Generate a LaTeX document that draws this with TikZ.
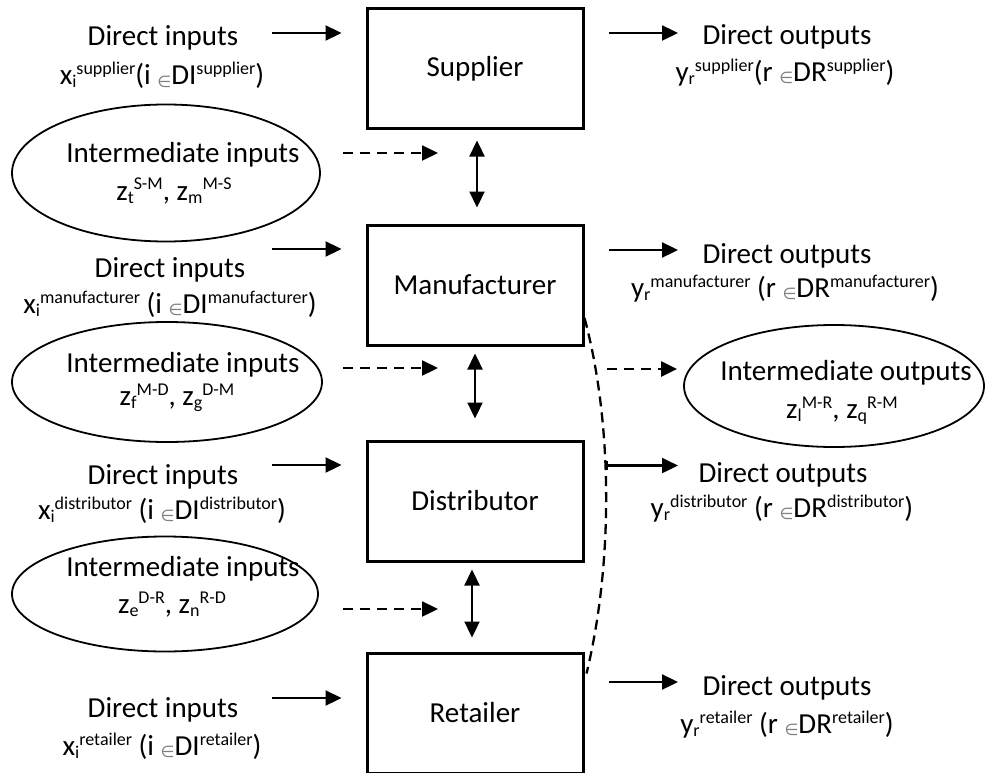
\documentclass[tikz,border=0pt]{standalone}
\usepackage{fontspec}
\setmainfont{Carlito}
\newfontfamily\symfont{DejaVu Sans}
\usepackage{tikz}
\usetikzlibrary{arrows.meta,shapes.geometric,positioning}
\newcommand{\upx}[1]{\raisebox{10pt}{\fontsize{18}{18}\selectfont #1}}
\newcommand{\dnx}[1]{\raisebox{-3pt}{\fontsize{18}{18}\selectfont #1}}
\newcommand{\memb}{\raisebox{-2pt}{\fontsize{16}{16}\selectfont\symfont\color{gray}∈}}

\begin{document}
\begin{tikzpicture}[x=1pt,y=-1pt,>={Triangle[length=16pt,width=15pt]},line width=2.3pt]
  \tikzstyle{firm}=[rectangle,draw=black,line width=3pt,minimum width=216pt,minimum height=120pt,inner sep=0pt,font=\fontsize{29}{35}\selectfont]
  \tikzstyle{oval}=[ellipse,draw=black,line width=1.8pt,inner sep=0pt]
  \tikzstyle{txt}=[inner sep=0pt,anchor=base,font=\fontsize{29}{35}\selectfont]
  \tikzstyle{dasharr}=[->,dash pattern=on 10pt off 7pt]

  \useasboundingbox (0,0) rectangle (985,773);

  % the four firms
  \node[firm] (Sup) at (475,69)  {Supplier};
  \node[firm] (Man) at (475,285) {Manufacturer};
  \node[firm] (Dis) at (475,501) {Distributor};
  \node[firm] (Ret) at (475,713) {Retailer};

  % ovals
  \node[oval,minimum width=308pt,minimum height=137pt] (E1) at (166,173) {};
  \node[oval,minimum width=310pt,minimum height=120pt] (E2) at (167,382) {};
  \node[oval,minimum width=306pt,minimum height=115pt] (E3) at (165,594) {};
  \node[oval,minimum width=300pt,minimum height=122pt] (IO) at (834,386) {};

  % direct inputs
  \node[txt] (inS)  at (163,46)  {Direct inputs};
  \node[txt] (inSv) at (162,85)  {x\dnx{i}\upx{supplier}(i \memb DI\upx{supplier})};
  \node[txt] (inM)  at (170,277) {Direct inputs};
  \node[txt] (inMv) at (170,313) {x\dnx{i}\upx{manufacturer} (i \memb DI\upx{manufacturer})};
  \node[txt] (inD)  at (163,484) {Direct inputs};
  \node[txt] (inDv) at (162,519) {x\dnx{i}\upx{distributor} (i \memb DI\upx{distributor})};
  \node[txt] (inR)  at (163,717) {Direct inputs};
  \node[txt] (inRv) at (162,755) {x\dnx{i}\upx{retailer} (i \memb DI\upx{retailer})};

  % direct outputs
  \node[txt] (outS)  at (787,45)  {Direct outputs};
  \node[txt] (outSv) at (785,82)  {y\dnx{r}\upx{supplier}(r \memb DR\upx{supplier})};
  \node[txt] (outM)  at (787,263) {Direct outputs};
  \node[txt] (outMv) at (785,297) {y\dnx{r}\upx{manufacturer} (r \memb DR\upx{manufacturer})};
  \node[txt] (outD)  at (783,482) {Direct outputs};
  \node[txt] (outDv) at (782,517) {y\dnx{r}\upx{distributor} (r \memb DR\upx{distributor})};
  \node[txt] (outR)  at (787,695) {Direct outputs};
  \node[txt] (outRv) at (787,733) {y\dnx{r}\upx{retailer} (r \memb DR\upx{retailer})};

  % intermediate flows
  \node[txt] (midA)  at (183,162) {Intermediate inputs};
  \node[txt] (midAv) at (174,200) {z\dnx{t}\upx{S-M}, z\dnx{m}\upx{M-S}};
  \node[txt] (midB)  at (183,372) {Intermediate inputs};
  \node[txt] (midBv) at (177,405) {z\dnx{f}\upx{M-D}, z\dnx{g}\upx{D-M}};
  \node[txt] (midC)  at (183,576) {Intermediate inputs};
  \node[txt] (midCv) at (172,613) {z\dnx{e}\upx{D-R}, z\dnx{n}\upx{R-D}};
  \node[txt] (midO)  at (846,380) {Intermediate outputs};
  \node[txt] (midOv) at (842,418) {z\dnx{l}\upx{M-R}, z\dnx{q}\upx{R-M}};

  % arrows in and out
  \foreach \b/\y in {Sup/33,Man/249,Dis/465,Ret/698}{
    \coordinate (in\b) at (272,\y);
    \draw[->,shorten >=24pt] (in\b) -- (in\b -| \b.west);
  }
  \foreach \b/\y in {Sup/33,Man/250,Ret/682}{
    \coordinate (out\b) at (678,\y);
    \draw[->,shorten <=24pt] (out\b -| \b.east) -- (out\b);
  }

  % links between firms
  \draw[<->,shorten <=10pt,shorten >=16pt] ([xshift=2pt]Sup.south) -- ([xshift=2pt]Man.north);
  \draw[<->,shorten <=7pt,shorten >=21pt] (Man.south) -- (Dis.north);
  \draw[<->,shorten <=7pt,shorten >=14pt] ([xshift=-3pt]Dis.south) -- ([xshift=-3pt]Ret.north);

  \foreach \n/\y/\b in {1/153/Sup,2/368/Man,3/609/Dis}{
    \coordinate (d\n) at (343,\y);
    \draw[dasharr,shorten >=37pt] (d\n) -- (d\n -| \b.south);
  }
  \coordinate (d4) at (607,369);
  \draw[dasharr,shorten >=6pt] (d4) -- (d4 -| IO.west);

  % bracket from manufacturer down to retailer
  \draw[dash pattern=on 10pt off 6pt] ([yshift=-33pt]Man.east)
    .. controls (612,420) and (614,560) .. ([shift={(2pt,-22pt)}]Ret.north east)
    coordinate[pos=0.43] (dc);
  \draw[{Bar[width=9pt]}-{Triangle[length=16pt,width=15pt]}] (dc) -- (dc -| outSup);
\end{tikzpicture}
\end{document}
